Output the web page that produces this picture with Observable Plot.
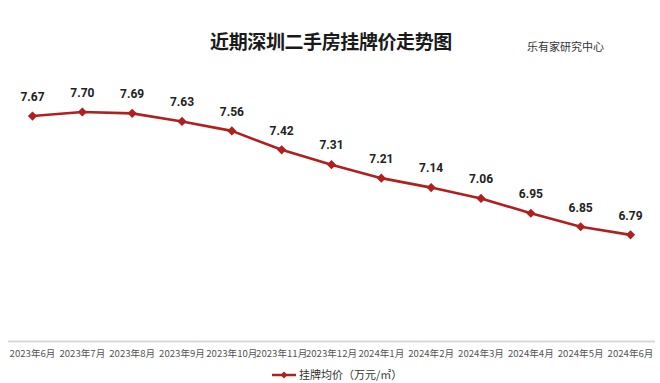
<!DOCTYPE html>
<html>
<head>
<meta charset="utf-8">
<script src="https://cdn.jsdelivr.net/npm/d3@7"></script>
<script src="https://cdn.jsdelivr.net/npm/@observablehq/plot@0.6"></script>
<style>
  html, body { margin: 0; padding: 0; background: #fff; }
  #wrap { position: relative; width: 660px; height: 383px; overflow: hidden; font-family: "Noto Sans CJK SC", "Noto Sans", sans-serif; }
  #title { position: absolute; left: 0; width: 662px; top: 27px; text-align: center; font-size: 19px; font-weight: 700; color: #1a1a1a; letter-spacing: -0.4px; }
  #source { position: absolute; left: 527px; top: 38px; font-size: 11px; color: #333; }
  #legend { position: absolute; left: 272px; top: 367px; height: 15px; font-size: 11px; line-height: 15px; color: #333; display: flex; align-items: center; white-space: nowrap; }
  #chart { position: absolute; left: 0; top: 0; }
</style>
</head>
<body>
<div id="wrap">
  <div id="chart"></div>
  <div id="title">近期深圳二手房挂牌价走势图</div>
  <div id="source">乐有家研究中心</div>
  <div id="legend">
    <svg width="24" height="10" style="margin-right:3px"><line x1="0" y1="5" x2="24" y2="5" stroke="#b0201f" stroke-width="2.5"/><path d="M12,1.5 L15.5,5 L12,8.5 L8.5,5 Z" fill="#b0201f"/></svg>
    <span>挂牌均价（万元/㎡）</span>
  </div>
</div>
<script>
const months = ["2023年6月","2023年7月","2023年8月","2023年9月","2023年10月","2023年11月","2023年12月","2024年1月","2024年2月","2024年3月","2024年4月","2024年5月","2024年6月"];
const prices = [7.67, 7.70, 7.69, 7.63, 7.56, 7.42, 7.31, 7.21, 7.14, 7.06, 6.95, 6.85, 6.79];
const data = months.map((m, i) => ({month: m, price: prices[i]}));
const lineColor = "#b0201f";

const chart = Plot.plot({
  width: 660,
  height: 383,
  marginLeft: 8,
  marginRight: 5,
  marginTop: 71,
  marginBottom: 42,
  style: {fontFamily: '"Noto Sans CJK SC", "Noto Sans", sans-serif', background: "transparent"},
  x: {type: "point", domain: months, range: [32, 630], padding: 0, round: false},
  y: {domain: [6, 8], axis: null},
  marks: [
    Plot.ruleY([6], {stroke: "#d9d9d9", strokeWidth: 2}),
    Plot.axisX({tickSize: 0, tickPadding: 9, fontSize: 9.6, fill: "#555", label: null}),
    Plot.line(data, {x: "month", y: "price", stroke: lineColor, strokeWidth: 2.6}),
    Plot.dot(data, {x: "month", y: "price", symbol: "diamond2", r: 3.2, fill: lineColor, stroke: lineColor}),
    Plot.text(data, {x: "month", y: "price", text: d => d.price.toFixed(2), dy: -19, fontSize: 12, fontWeight: 700, fill: "#222", fontFamily: "Roboto, 'Noto Sans', sans-serif"})
  ]
});
document.getElementById("chart").appendChild(chart);
</script>
</body>
</html>
